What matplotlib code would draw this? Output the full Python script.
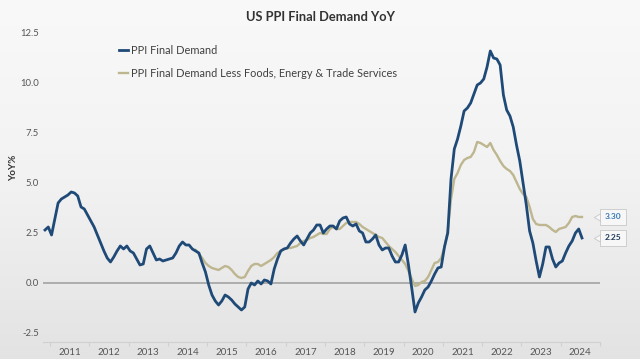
import numpy as np
import matplotlib
matplotlib.use("Agg")
import matplotlib.pyplot as plt

plt.rcParams['font.family'] = ['Lato', 'DejaVu Sans']

# monthly YoY %, Nov 2010 .. Jul 2024
ppi_fd = [
    2.65, 2.8,
    2.4, 3.2, 4.0, 4.2, 4.3, 4.4, 4.55, 4.5, 4.35, 3.8, 3.7, 3.4,
    3.1, 2.8, 2.4, 2.0, 1.6, 1.25, 1.05, 1.3, 1.6, 1.85, 1.7, 1.85,
    1.6, 1.5, 1.2, 0.9, 0.95, 1.7, 1.85, 1.5, 1.15, 1.2, 1.1, 1.15,
    1.2, 1.25, 1.5, 1.85, 2.05, 1.9, 1.9, 1.7, 1.6, 1.5, 1.0, 0.55,
    -0.1, -0.6, -0.9, -1.1, -0.9, -0.6, -0.7, -0.85, -1.05, -1.2, -1.35, -1.2,
    -0.3, 0.0, -0.1, 0.1, -0.05, 0.15, 0.1, -0.05, 0.7, 1.2, 1.6, 1.7,
    1.75, 2.0, 2.2, 2.35, 2.1, 1.9, 2.2, 2.5, 2.65, 2.9, 2.9, 2.5,
    2.7, 2.85, 2.85, 2.7, 3.1, 3.25, 3.3, 2.95, 2.85, 2.95, 2.6, 2.5,
    2.05, 2.05, 2.2, 2.4, 1.9, 1.65, 1.75, 1.75, 1.35, 1.05, 1.05, 1.4,
    1.9, 0.9, -0.25, -1.45, -1.0, -0.7, -0.35, -0.2, 0.1, 0.45, 0.75, 0.8,
    1.8, 2.5, 5.2, 6.7, 7.2, 7.85, 8.6, 8.75, 9.0, 9.45, 9.9, 10.0,
    10.2, 10.8, 11.6, 11.25, 11.2, 10.9, 9.4, 8.65, 8.35, 7.8, 6.9, 6.1,
    5.0, 3.9, 2.6, 2.0, 1.1, 0.3, 0.95, 1.8, 1.8, 1.2, 0.8, 1.0,
    1.1, 1.5, 1.85, 2.1, 2.5, 2.7, 2.25,
]

# less foods, energy & trade services, Sep 2014 .. Jul 2024
core_start = 46
ppi_core = [
    1.65, 1.45, 1.25, 1.0,
    0.85, 0.75, 0.7, 0.65, 0.75, 0.85, 0.8, 0.65, 0.45, 0.3, 0.25, 0.3,
    0.6, 0.85, 0.95, 0.95, 0.85, 0.95, 1.05, 1.15, 1.3, 1.5, 1.6, 1.7,
    1.75, 1.75, 1.8, 1.85, 2.0, 2.1, 2.15, 2.25, 2.3, 2.4, 2.5, 2.45,
    2.45, 2.7, 2.8, 2.7, 2.7, 2.85, 3.0, 3.05, 3.05, 3.05, 2.95, 2.8,
    2.7, 2.6, 2.5, 2.4, 2.3, 2.25, 2.05, 1.85, 1.7, 1.55, 1.35, 1.15,
    0.95, 0.6, 0.2, -0.15, -0.1, 0.05, 0.1, 0.3, 0.65, 1.0, 1.05, 1.25,
    1.8, 2.6, 4.2, 5.2, 5.5, 5.9, 6.15, 6.25, 6.3, 6.55, 7.05, 7.0,
    6.9, 6.8, 7.0, 6.65, 6.4, 6.1, 5.85, 5.7, 5.6, 5.4, 5.05, 4.7,
    4.45, 4.3, 3.8, 3.2, 2.95, 2.9, 2.9, 2.9, 2.8, 2.65, 2.55, 2.7,
    2.75, 2.8, 3.0, 3.3, 3.35, 3.3, 3.3,
]

years = list(range(2011, 2025))
yticks = [-2.5, 0.0, 2.5, 5.0, 7.5, 10.0, 12.5]

blue = '#1f4a78'
tan = '#bdb68f'

fig = plt.figure(figsize=(6.4, 3.59), dpi=100)

# soft background gradient like the screenshot
bg = fig.add_axes([0, 0, 1, 1], zorder=-10)
grad = np.linspace(0, 1, 256).reshape(-1, 1)
bg.imshow(grad, aspect='auto', cmap=matplotlib.colors.LinearSegmentedColormap.from_list(
    'g', ['#f9f9f9', '#f2f2f2', '#e3e3e3']), extent=[0, 1, 0, 1])
bg.axis('off')

ax = fig.add_axes([0.0672, 0.0474, 0.8703, 0.883])
ax.patch.set_alpha(0)

x_fd = np.arange(len(ppi_fd))
x_core = np.arange(core_start, core_start + len(ppi_core))

ax.axhline(0, color='#a8a8a8', lw=1.3, zorder=1)
ax.plot(x_core, ppi_core, color=tan, lw=1.7, zorder=2,
        label='PPI Final Demand Less Foods, Energy & Trade Services')
ax.plot(x_fd, ppi_fd, color=blue, lw=2.0, zorder=3, label='PPI Final Demand')

ax.set_xlim(-0.61, 168.6)
ax.set_ylim(-2.95, 12.9)

for s in ['top', 'right', 'left']:
    ax.spines[s].set_visible(False)
ax.spines['bottom'].set_color('#d0d0d0')

ax.set_yticks(yticks)
ax.set_yticklabels([f'{v:.1f}' for v in yticks], fontsize=6.8, color='#555555')
ax.tick_params(axis='y', length=0, pad=3)

ax.set_xticks([1.5 + 12 * i for i in range(len(years) + 1)])
ax.set_xticklabels([])
ax.set_xticks([7.5 + 12 * i for i in range(len(years))], minor=True)
ax.set_xticklabels([str(y) for y in years], minor=True, fontsize=7, color='#555555')
ax.tick_params(axis='x', which='major', length=3, color='#d0d0d0')
ax.tick_params(axis='x', which='minor', length=0, pad=4)

ax.set_ylabel('YoY%', fontsize=7, fontweight='bold', color='#333333', labelpad=6)
ax.yaxis.set_label_coords(-0.045, 0.55)

fig.suptitle('US PPI Final Demand YoY', fontsize=9.3, fontweight='bold',
             color='#333333', y=0.97)

h, l = ax.get_legend_handles_labels()
leg = ax.legend(h[::-1], l[::-1], loc='upper left', bbox_to_anchor=(0.118, 0.968),
                frameon=False, fontsize=7.9, handlelength=0.9, handletextpad=0.2,
                labelspacing=1.05, labelcolor='#404040')

# end-value callouts
last_fd = ppi_fd[-1]
last_core = ppi_core[-1]
for val, col in [(last_core, '#3a78b8'), (last_fd, '#1f3a5a')]:
    ax.text(173.4, val, f'{val:.2f}', fontsize=6, fontweight='bold', color=col,
            ha='center', va='center', clip_on=False,
            bbox=dict(boxstyle='square,pad=0.55', fc='#f7f7f7', ec='#c8c8c8', lw=0.6))
    ax.plot([168.9], [val], marker=(3, 0, 90), ms=6, mfc='#f7f7f7', mec='#c8c8c8',
            mew=0.6, clip_on=False, zorder=5)

fig.savefig('out.png', dpi=100)
